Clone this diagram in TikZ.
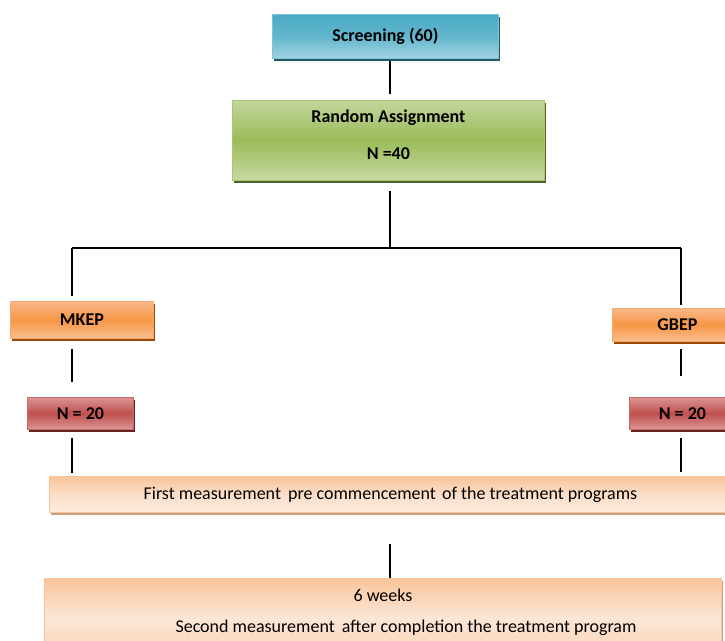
\documentclass[tikz,border=0pt]{standalone}
\usepackage{fontspec}
\setmainfont{Carlito}
\usetikzlibrary{shadows}
\definecolor{scrA}{HTML}{4AAAC4}
\definecolor{scrB}{HTML}{62B6CD}
\definecolor{scrC}{HTML}{A2D4E2}
\definecolor{scrL}{HTML}{7FC3D6}
\definecolor{scrS}{HTML}{215968}
\definecolor{ranA}{HTML}{C3D69B}
\definecolor{ranB}{HTML}{9BBB59}
\definecolor{ranC}{HTML}{C8DBA4}
\definecolor{ranL}{HTML}{A9C672}
\definecolor{ranS}{HTML}{4F6228}
\definecolor{orA}{HTML}{F9B88A}
\definecolor{orB}{HTML}{F79646}
\definecolor{orC}{HTML}{FABF8F}
\definecolor{orL}{HTML}{F7A86A}
\definecolor{orS}{HTML}{984807}
\definecolor{rdA}{HTML}{D99594}
\definecolor{rdB}{HTML}{C0504D}
\definecolor{rdC}{HTML}{DA9694}
\definecolor{rdL}{HTML}{C96866}
\definecolor{rdS}{HTML}{632523}
\definecolor{pcA}{HTML}{F9C49A}
\definecolor{pcB}{HTML}{FCDEC8}
\definecolor{pcC}{HTML}{FDEBDD}
\definecolor{pdA}{HTML}{F9C49A}
\definecolor{pdB}{HTML}{FCE6D6}
\definecolor{pdC}{HTML}{FAD2B4}
\definecolor{pcL}{HTML}{F9C49A}
\definecolor{pcS}{HTML}{C8A085}
\begin{document}
\begin{tikzpicture}[x=1pt,y=-1pt,
  box/.style={anchor=north west, inner sep=0pt, line width=0.8pt,
    font=\fontsize{18}{22}\selectfont, text=black},
  blue box/.style={box, draw=scrL, top color=scrA, bottom color=scrC, middle color=scrB,
    drop shadow={shadow xshift=2pt, shadow yshift=-3pt, fill=scrS, opacity=1}},
  green box/.style={box, draw=ranL, top color=ranA, bottom color=ranC, middle color=ranB,
    drop shadow={shadow xshift=2pt, shadow yshift=-3pt, fill=ranS, opacity=1}},
  orange box/.style={box, draw=orL, top color=orA, bottom color=orC, middle color=orB,
    drop shadow={shadow xshift=2pt, shadow yshift=-3pt, fill=orS, opacity=1}},
  red box/.style={box, draw=rdL, top color=rdA, bottom color=rdC, middle color=rdB,
    drop shadow={shadow xshift=2pt, shadow yshift=-3pt, fill=rdS, opacity=1}},
  peach box/.style={box, draw=pcL, top color=pcA, bottom color=pcC, middle color=pcB,
    drop shadow={shadow xshift=2pt, shadow yshift=-3pt, fill=pcS, opacity=1}},
  peach box2/.style={box, draw=pcL, top color=pdA, bottom color=pdC, middle color=pdB,
    drop shadow={shadow xshift=2pt, shadow yshift=-3pt, fill=pcS, opacity=1}},
  txt/.style={inner sep=0pt, font=\fontsize{18}{22}\selectfont, text=black},
  conn/.style={draw=black, line width=2pt},
  thinconn/.style={draw=black, line width=1.3pt}
]
\useasboundingbox (0,0) rectangle (725,640);
\clip (0,0) rectangle (725,640);

\node[blue box, minimum width=226pt, minimum height=44pt] (scr) at (272,14) {\bfseries Screening (60)};
\node[green box, minimum width=312pt, minimum height=80pt] (ran) at (232,100) {};
\node[txt, align=center, font=\fontsize{18}{37}\selectfont] (rantxt) at ([yshift=6pt]ran.center)
  {\bfseries Random Assignment\\\bfseries N =40};
\node[orange box, minimum width=143pt, minimum height=37pt] (mkep) at (10,301) {\bfseries MKEP};
\node[orange box, minimum width=130pt, minimum height=33pt] (gbep) at (612,308) {\bfseries GBEP};
\node[red box, minimum width=106pt, minimum height=32pt] (n1) at (27,397) {\bfseries N = 20};
\node[red box, minimum width=106pt, minimum height=32pt] (n2) at (629,397) {\bfseries N = 20};
\node[peach box, minimum width=682pt, minimum height=36pt] (first) at (49,476)
  {First measurement\hspace{3pt} pre commencement\hspace{2pt} of the treatment programs};
\node[peach box2, minimum width=677pt, minimum height=80pt] (sec) at (44,578) {};
\node[txt] (wk) at (383,595) {6 weeks};
\node[txt] (sm) at (406,628) {Second measurement\hspace{3pt} after completion the treatment program};

\coordinate (jn) at (390,248);
\coordinate (lc) at (72,248);
\coordinate (rc) at (681,248);

\draw[conn, shorten <=2pt, shorten >=6pt] (scr.south -| jn) -- (ran.north -| jn);
\draw[conn, shorten <=10pt] (ran.south -| jn) -- (jn);
\draw[conn] (lc) -- (rc);
\draw[conn, shorten >=5pt] (lc) -- (mkep.north -| lc);
\draw[thinconn, shorten >=3pt] (rc) -- (gbep.north -| rc);
\draw[conn, shorten <=10pt, shorten >=15pt] (mkep.south -| lc) -- (n1.north -| lc);
\draw[conn, shorten <=8pt, shorten >=3pt] (n1.south -| lc) -- (first.north -| lc);
\draw[conn, shorten <=7pt, shorten >=21pt] (gbep.south -| rc) -- (n2.north -| rc);
\draw[conn, shorten <=8pt, shorten >=4pt] (n2.south -| rc) -- (first.north -| rc);
\draw[conn, shorten <=31pt] (first.south -| jn) -- (sec.north -| jn);
\end{tikzpicture}
\end{document}
